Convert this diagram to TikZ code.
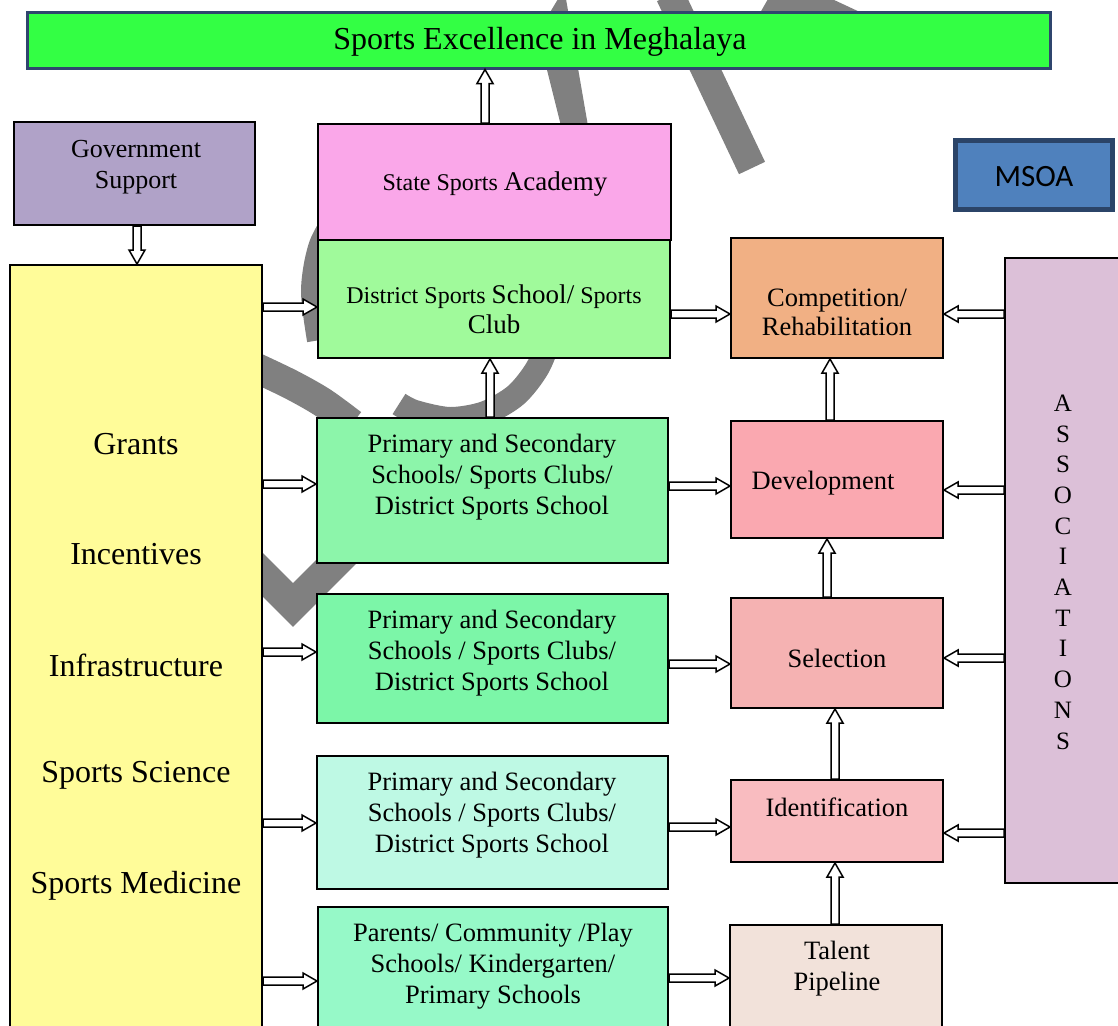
\documentclass[tikz,border=0pt]{standalone}
\usepackage{fontspec}
\setmainfont{Liberation Serif}
\newfontfamily\msoafont{Carlito}
\usetikzlibrary{calc}
\definecolor{wmgray}{RGB}{128,128,128}
\definecolor{cTitle}{RGB}{51,255,68}
\definecolor{cTitleB}{RGB}{47,69,110}
\definecolor{cGov}{RGB}{176,162,200}
\definecolor{cYellow}{RGB}{255,252,153}
\definecolor{cState}{RGB}{250,167,233}
\definecolor{cDist}{RGB}{160,250,155}
\definecolor{cPrimA}{RGB}{140,245,170}
\definecolor{cPrimB}{RGB}{124,246,168}
\definecolor{cPrimC}{RGB}{190,249,228}
\definecolor{cParents}{RGB}{150,249,200}
\definecolor{cComp}{RGB}{241,176,132}
\definecolor{cDev}{RGB}{250,168,176}
\definecolor{cSel}{RGB}{245,178,178}
\definecolor{cIdent}{RGB}{249,188,192}
\definecolor{cTalent}{RGB}{242,226,218}
\definecolor{cAssoc}{RGB}{220,192,216}
\definecolor{cMsoa}{RGB}{79,129,189}
\definecolor{cMsoaB}{RGB}{43,68,104}
\begin{document}
\begin{tikzpicture}[x=0.5pt,y=-0.5pt,
  box/.style={draw=black, line width=1pt, inner sep=0pt},
  txt/.style={align=center, inner sep=0pt, text=black},
  fa/.style={font=\fontsize{13.25pt}{15.5pt}\selectfont},
  fy/.style={font=\fontsize{16pt}{19pt}\selectfont},
  wm/.style={draw=wmgray, line cap=butt},
  blk/.style={draw=black, line width=0.75pt, fill=white, line join=miter,
    to path={let \p1=(\tikztostart), \p2=(\tikztotarget),
      \n1={atan2(\y2-\y1,\x2-\x1)}, \n2={veclen(\x2-\x1,\y2-\y1)-7pt} in
      ++(\n1+90:2pt) -- ++(\n1:\n2) -- ++(\n1+90:2pt) -- (\tikztotarget)
      -- ($(\p2)+(\n1+180:7pt)+(\n1-90:4pt)$) -- ++(\n1+90:2pt)
      -- ++(\n1+180:\n2) -- cycle}}
]
\useasboundingbox[fill=white] (0,0) rectangle (1118,1025);

% watermark pieces (behind the boxes)
\fill[wmgray] (549,14) -- (558,-1) -- (566,-1) -- (588,126) -- (561,126) -- (547,70) -- cycle;
\draw[wm, line width=14.4pt] (670,-5) -- (752,168);
\fill[wmgray] (768,-1) -- (832,-1) -- (862,13) -- (862,30) -- (760,30) -- (760,13) -- cycle;
\draw[wm, line width=12pt] plot[smooth] coordinates {(399,404) (415,412) (450,419) (485,413) (516,395) (538,367) (550,334) (552,298)};
\draw[wm, line width=13pt] plot[smooth] coordinates {(345,205) (322,245) (314,290) (320,340)};
\draw[wm, line width=15pt] plot[smooth] coordinates {(250,365) (290,384) (322,402) (352,424)};
\draw[wm, line width=15.5pt, line join=miter] (240,552) -- (293,605) -- (370,528);

% boxes
\node[box, fill=cTitle, draw=cTitleB, line width=1.5pt, minimum width=511.5pt, minimum height=28pt] (title) at (538.5,40) {};
\node[box, fill=cGov, minimum width=120.5pt, minimum height=51.5pt] (gov) at (134.5,173.5) {};
\node[box, fill=cState, minimum width=176.5pt, minimum height=58pt] (state) at (494.5,182) {};
\node[box, fill=cDist, minimum width=176pt, minimum height=59pt] (dist) at (494,299) {};
\node[box, fill=cPrimA, minimum width=175.5pt, minimum height=72.5pt] (primA) at (492.5,490.5) {};
\node[box, fill=cPrimB, minimum width=175.5pt, minimum height=64.5pt] (primB) at (492.5,658.5) {};
\node[box, fill=cPrimC, minimum width=175.5pt, minimum height=66.5pt] (primC) at (492.5,822.5) {};
\node[box, fill=cParents, minimum width=175pt, minimum height=66.5pt] (parents) at (493,973.5) {};
\node[box, fill=cYellow, minimum width=126pt, minimum height=387.5pt] (yellow) at (136,652.5) {};
\node[box, fill=cComp, minimum width=106pt, minimum height=60pt] (comp) at (837,298) {};
\node[box, fill=cDev, minimum width=106pt, minimum height=58.5pt] (dev) at (837,479.5) {};
\node[box, fill=cSel, minimum width=106pt, minimum height=55pt] (sel) at (837,653) {};
\node[box, fill=cIdent, minimum width=106pt, minimum height=41pt] (ident) at (837,821) {};
\node[box, fill=cTalent, minimum width=106pt, minimum height=57.5pt] (talent) at (836,982.5) {};
\node[box, fill=cMsoa, draw=cMsoaB, line width=2.5pt, minimum width=78.5pt, minimum height=34.5pt] (msoa) at (1034,175) {};
\node[box, fill=cAssoc, minimum width=60pt, minimum height=312.5pt] (assoc) at (1065,570.5) {};

% texts
\node[txt, fy] (ttitle) at (540,42) {Sports Excellence in Meghalaya};
\node[txt, font=\fontsize{13pt}{15.5pt}\selectfont] (tgov) at (136,167) {Government\\Support};
\node[txt, font=\fontsize{12pt}{15pt}\selectfont] (tstate) at (495,184) {State Sports {\fontsize{13.5pt}{15pt}\selectfont Academy}};
\node[txt, font=\fontsize{12pt}{15pt}\selectfont] (tdist) at (494,309) {District Sports {\fontsize{13.5pt}{15pt}\selectfont School/} Sports\\{\fontsize{13.5pt}{15pt}\selectfont Club}};
\node[txt, fa] (tprimA) at (492,477) {Primary and Secondary\\Schools/ Sports Clubs/\\District Sports School};
\node[txt, fa] (tprimB) at (492,653) {Primary and Secondary\\Schools / Sports Clubs/\\District Sports School};
\node[txt, fa] (tprimC) at (492,815) {Primary and Secondary\\Schools / Sports Clubs/\\District Sports School};
\node[txt, fa] (tparents) at (493,966) {Parents/ Community /Play\\Schools/ Kindergarten/\\Primary Schools};
\node[txt, font=\fontsize{13.25pt}{14.5pt}\selectfont] (tcomp) at (837,312) {Competition/\\Rehabilitation};
\node[txt, fa] (tdev) at (823,483) {Development};
\node[txt, fa] (tsel) at (837,658) {Selection};
\node[txt, fa] (tident) at (837,807) {Identification};
\node[txt, fa] (ttalent) at (837,969) {Talent\\Pipeline};
\node[txt, font=\msoafont\fontsize{15.5pt}{18pt}\selectfont] (tmsoa) at (1034,177) {MSOA};
\node[txt, font=\fontsize{12.5pt}{15.35pt}\selectfont] (tassoc) at (1063,572) {A\\S\\S\\O\\C\\I\\A\\T\\I\\O\\N\\S};
\node[txt, fy] (tgrants) at (136,444) {Grants};
\node[txt, fy] (tinc) at (136,554) {Incentives};
\node[txt, fy] (tinfra) at (136,665) {Infrastructure};
\node[txt, fy] (tsci) at (136,775) {Sports Science};
\node[txt, fy] (tmed) at (136,886) {Sports Medicine};

% arrows
\draw[blk] (485,0 |- state.north) to (485,0 |- title.south);
\draw[blk] (137,0 |- gov.south) to (137,0 |- yellow.north);
\draw[blk] (yellow.east |- 0,307) to (dist.west |- 0,307);
\draw[blk] (yellow.east |- 0,484) to (primA.west |- 0,484);
\draw[blk] (yellow.east |- 0,652) to (primB.west |- 0,652);
\draw[blk] (yellow.east |- 0,823) to (primC.west |- 0,823);
\draw[blk] (yellow.east |- 0,981) to (parents.west |- 0,981);
\draw[blk] (490,0 |- primA.north) to (490,0 |- dist.south);
\draw[blk] (dist.east |- 0,314) to (comp.west |- 0,314);
\draw[blk] (primA.east |- 0,486) to (dev.west |- 0,486);
\draw[blk] (primB.east |- 0,664) to (sel.west |- 0,664);
\draw[blk] (primC.east |- 0,827) to (ident.west |- 0,827);
\draw[blk] (parents.east |- 0,978) to (talent.west |- 0,978);
\draw[blk] (830,0 |- dev.north) to (830,0 |- comp.south);
\draw[blk] (827,0 |- sel.north) to (827,0 |- dev.south);
\draw[blk] (835,0 |- ident.north) to (835,0 |- sel.south);
\draw[blk] (835,0 |- talent.north) to (835,0 |- ident.south);
\draw[blk] (assoc.west |- 0,314) to (comp.east |- 0,314);
\draw[blk] (assoc.west |- 0,490) to (dev.east |- 0,490);
\draw[blk] (assoc.west |- 0,658) to (sel.east |- 0,658);
\draw[blk] (assoc.west |- 0,833) to (ident.east |- 0,833);
\end{tikzpicture}
\end{document}
